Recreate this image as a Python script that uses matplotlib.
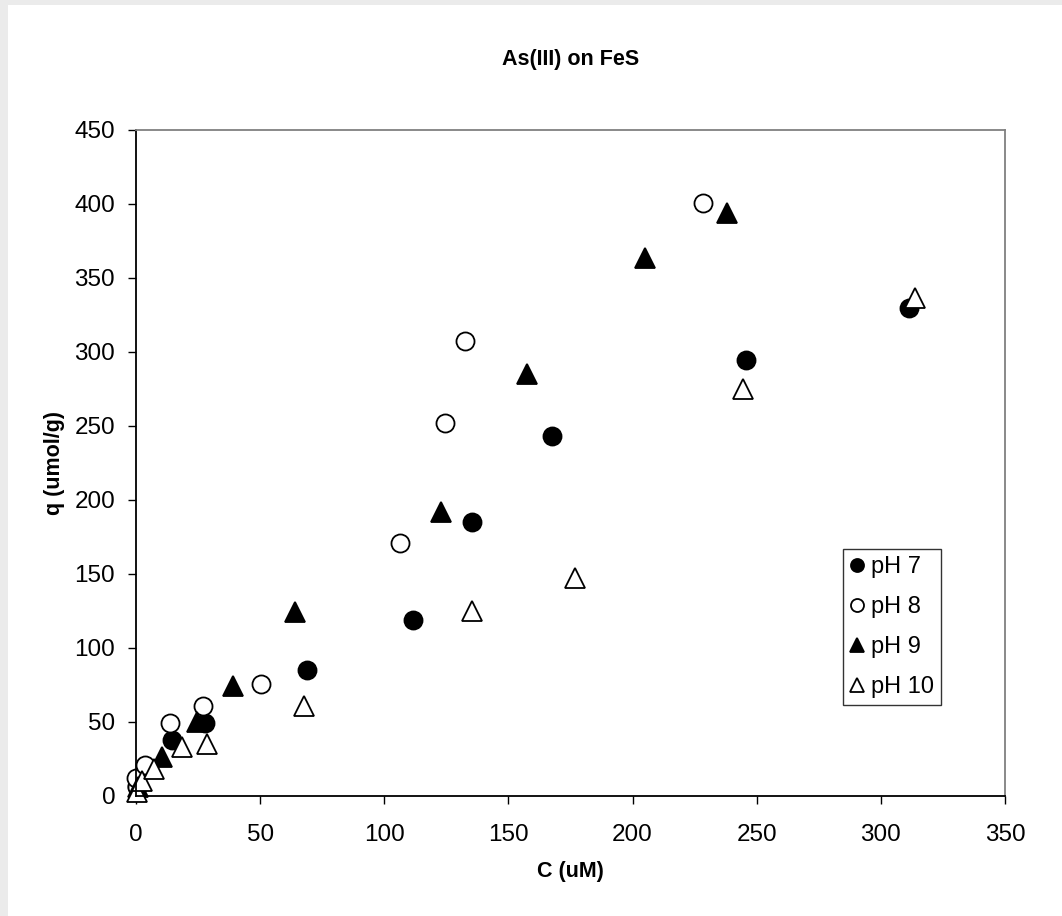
import matplotlib.pyplot as plt
from matplotlib.patches import Rectangle

plt.rcParams["font.family"] = ["Liberation Sans", "DejaVu Sans"]

# As(III) sorption on FeS, C (uM) vs q (umol/g)
c_ph7 = [0.5, 14.5, 27.8, 69, 111.5, 135.3, 167.5, 245.6, 311.3]
q_ph7 = [7, 38, 49, 85, 119, 185, 243, 294.6, 330]

c_ph8 = [0.4, 0.2, 3.6, 13.7, 27, 50.4, 106.5, 124.5, 132.5, 228.4]
q_ph8 = [6, 12, 21, 49, 61, 75.5, 171, 252, 307.5, 400.6]

c_ph9 = [1, 10.5, 24.6, 39, 64, 123, 157.6, 205, 238]
q_ph9 = [6, 26.5, 50, 74.5, 124, 192, 285, 363.5, 394]

c_ph10 = [0.5, 2.4, 7.4, 18.6, 28.6, 67.7, 135.4, 177, 244.3, 313.7]
q_ph10 = [3, 10, 18, 33, 35, 60.5, 125, 147, 275, 336.5]

series = [
    (c_ph7, q_ph7, "o", "black", "pH 7"),
    (c_ph8, q_ph8, "o", "white", "pH 8"),
    (c_ph9, q_ph9, "^", "black", "pH 9"),
    (c_ph10, q_ph10, "^", "white", "pH 10"),
]

fig = plt.figure(figsize=(10.62, 9.16), dpi=100, facecolor="#ebebeb")
# white chart area inside the grey page border
fig.patches.append(Rectangle((8 / 1062, 0), 1, 1 - 5 / 916, transform=fig.transFigure,
                             facecolor="white", edgecolor="none", zorder=-10))

ax = fig.add_axes([136 / 1062, 1 - 796 / 916, (1005 - 136) / 1062, (796 - 130) / 916])

for c, q, m, fc, lab in series:
    ms = 13 if m == "o" else 14
    ax.plot(c, q, linestyle="none", marker=m, markersize=ms, markerfacecolor=fc,
            markeredgecolor="black", markeredgewidth=1.3, label=lab, clip_on=False)

ax.set_xlim(0, 350)
ax.set_ylim(0, 450)
ax.set_xticks(range(0, 351, 50))
ax.set_yticks(range(0, 451, 50))
ax.tick_params(direction="out", length=6, width=1, labelsize=17.5, color="black")
ax.tick_params(axis="x", pad=14)
ax.tick_params(axis="y", pad=9)
for s in ["top", "right"]:
    ax.spines[s].set_color("#808080")
    ax.spines[s].set_linewidth(1.3)
for s in ["left", "bottom"]:
    ax.spines[s].set_color("black")
    ax.spines[s].set_linewidth(1.3)

ax.set_title("As(III) on FeS", fontsize=15.5, fontweight="bold", pad=47)
ax.set_xlabel("C (uM)", fontsize=15.5, fontweight="bold", labelpad=11)
ax.set_ylabel("q (umol/g)", fontsize=15.5, fontweight="bold", labelpad=7)

leg = ax.legend(loc="upper left", bbox_to_anchor=((843 - 136) / 869, 1 - (549 - 130) / 666),
                fontsize=17, frameon=True, fancybox=False, markerscale=0.72,
                handlelength=0.6, handletextpad=0.3, labelspacing=0.76,
                borderpad=0.3, borderaxespad=0)
leg.get_frame().set_edgecolor("black")
leg.get_frame().set_linewidth(1)

fig.savefig("out.png", dpi=100, facecolor=fig.get_facecolor())
